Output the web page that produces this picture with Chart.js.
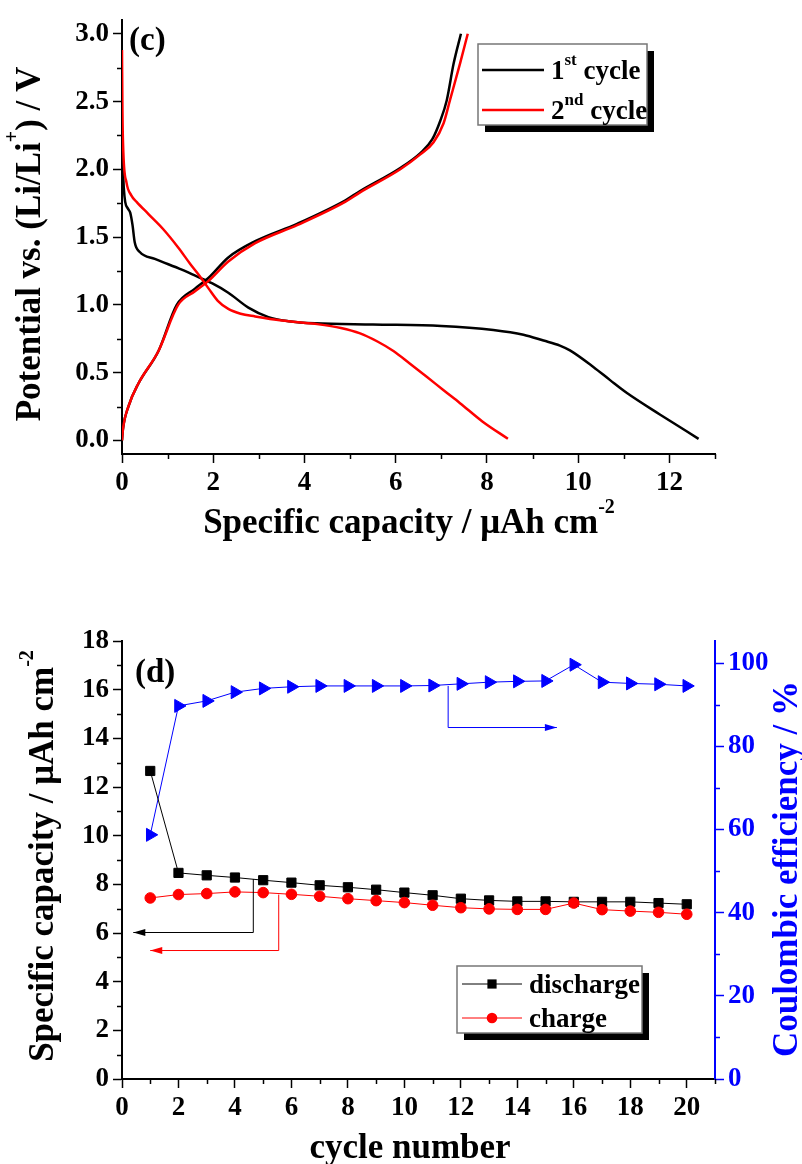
<!DOCTYPE html>
<html>
<head>
<meta charset="utf-8">
<script src="https://cdn.jsdelivr.net/npm/chart.js@4.4.0/dist/chart.umd.min.js"></script>
<style>
  html, body { margin: 0; padding: 0; background: #fff; }
  canvas { display: block; }
</style>
</head>
<body>
<canvas id="chartC" width="802" height="580"></canvas>
<canvas id="chartD" width="802" height="584"></canvas>
<script>
// (c) potential profiles, [capacity µAh cm-2, potential V]
const cycle1Discharge = [[0, 2.15], [0.02, 2.0], [0.04, 1.86], [0.07, 1.76], [0.13, 1.71], [0.18, 1.68],
  [0.23, 1.59], [0.28, 1.46], [0.39, 1.39], [0.72, 1.34], [1.31, 1.26], [1.64, 1.21], [1.97, 1.16],
  [2.33, 1.09], [2.77, 0.98], [3.21, 0.91], [3.65, 0.88], [4.23, 0.864], [5.5, 0.855], [7.0, 0.845],
  [8.14, 0.815], [8.8, 0.78], [9.24, 0.737], [9.6, 0.70], [9.82, 0.664], [10.34, 0.54], [10.7, 0.445],
  [11.07, 0.35], [11.8, 0.19], [12.64, 0.012]];
const cycle1Charge = [[0, 0.0], [0.02, 0.08], [0.14, 0.25], [0.36, 0.42], [0.8, 0.66], [1.2, 1.0],
  [1.6, 1.12], [1.9, 1.2], [2.33, 1.35], [2.92, 1.47], [3.85, 1.6], [4.89, 1.77], [5.22, 1.84],
  [6.1, 2.01], [6.54, 2.12], [6.8, 2.22], [6.98, 2.36], [7.12, 2.51], [7.27, 2.78], [7.43, 3.0]];
const cycle2Discharge = [[0, 2.88], [0.01, 2.42], [0.03, 2.12], [0.1, 1.9], [0.2, 1.81], [0.32, 1.76],
  [0.58, 1.67], [0.9, 1.56], [1.24, 1.42], [1.5, 1.3], [1.71, 1.21], [1.9, 1.12], [2.1, 1.03],
  [2.33, 0.97], [2.6, 0.935], [2.92, 0.915], [3.5, 0.885], [4.23, 0.86], [4.8, 0.83], [5.22, 0.79],
  [5.6, 0.73], [5.95, 0.66], [6.3, 0.57], [6.68, 0.47], [7.05, 0.37], [7.41, 0.275], [7.9, 0.14],
  [8.46, 0.012]];
const cycle2Charge = [[0, 0.0], [0.02, 0.08], [0.14, 0.25], [0.36, 0.42], [0.8, 0.66], [1.23, 1.0],
  [1.6, 1.1], [1.89, 1.175], [2.33, 1.32], [2.92, 1.455], [3.85, 1.59], [4.89, 1.76], [5.22, 1.83],
  [6.1, 2.0], [6.54, 2.11], [6.83, 2.2], [7.05, 2.34], [7.19, 2.51], [7.41, 2.78], [7.58, 3.0]];
const capacityTicksC = [0, 2, 4, 6, 8, 10, 12];
const potentialTicks = [0, 0.5, 1.0, 1.5, 2.0, 2.5, 3.0];

// (d) cycling
const cycles = [1, 2, 3, 4, 5, 6, 7, 8, 9, 10, 11, 12, 13, 14, 15, 16, 17, 18, 19, 20];
const dischargeCap = [12.66, 8.47, 8.37, 8.28, 8.17, 8.07, 7.96, 7.88, 7.78, 7.66,
  7.55, 7.41, 7.34, 7.30, 7.30, 7.28, 7.28, 7.28, 7.23, 7.18];
const chargeCap = [7.44, 7.58, 7.62, 7.69, 7.66, 7.59, 7.51, 7.41, 7.33, 7.25,
  7.14, 7.04, 6.99, 6.97, 6.97, 7.23, 6.96, 6.90, 6.85, 6.77];
const coulombicEff = [58.7, 89.7, 90.9, 93.0, 93.9, 94.3, 94.5, 94.5, 94.5, 94.5,
  94.6, 95.0, 95.4, 95.6, 95.7, 99.6, 95.4, 95.1, 94.9, 94.5];
const cycleTicks = [0, 2, 4, 6, 8, 10, 12, 14, 16, 18, 20];
const capacityTicksD = [0, 2, 4, 6, 8, 10, 12, 14, 16, 18];
const effTicks = [0, 20, 40, 60, 80, 100];

const FAMILY = '"Liberation Serif", "Times New Roman", serif';
const bold = size => `bold ${size}px ${FAMILY}`;
Chart.defaults.font.family = FAMILY;

function axis(color, tickValues, fitKey, fitSize) {
  return {
    type: 'linear',
    border: { display: true, color, width: 2 },
    grid: { drawOnChartArea: false, drawTicks: true, tickLength: 9, tickWidth: 1.5, tickColor: color, color },
    ticks: { color, font: { size: 27, weight: 'bold' }, padding: 4, autoSkip: false, maxRotation: 0 },
    afterBuildTicks: s => { s.ticks = tickValues.map(v => ({ value: v })); },
    afterFit: s => { s[fitKey] = fitSize; },
  };
}

// text with superscripts: parts = [[text, size, rise], ...]
function richText(ctx, parts, x, y, opt = {}) {
  ctx.save();
  ctx.translate(x, y);
  ctx.rotate(opt.angle || 0);
  ctx.fillStyle = opt.color || '#000';
  ctx.textBaseline = 'alphabetic';
  ctx.textAlign = 'left';
  let w = 0;
  parts.forEach(p => { ctx.font = bold(p[1]); w += ctx.measureText(p[0]).width; });
  let cx = opt.align === 'left' ? 0 : -w / 2;
  parts.forEach(p => {
    ctx.font = bold(p[1]);
    ctx.fillText(p[0], cx, -(p[2] || 0));
    cx += ctx.measureText(p[0]).width;
  });
  ctx.restore();
}

function legendBox(ctx, x, y, w, h) {
  ctx.save();
  ctx.fillStyle = '#000';
  ctx.fillRect(x + 7, y + 7, w, h);
  ctx.fillStyle = '#fff';
  ctx.fillRect(x, y, w, h);
  ctx.strokeStyle = '#777';
  ctx.lineWidth = 1.5;
  ctx.strokeRect(x, y, w, h);
  ctx.restore();
}

const minorTicks = {
  id: 'minorTicks',
  afterDraw(chart, args, opts) {
    const ctx = chart.ctx;
    Object.keys(opts.steps || {}).forEach(id => {
      const s = chart.scales[id];
      const step = opts.steps[id];
      const majors = s.ticks.map(t => t.value);
      ctx.save();
      ctx.strokeStyle = s.options.border.color;
      ctx.lineWidth = 1.5;
      for (let k = Math.ceil(s.min / step - 1e-9); k * step <= s.max + 1e-9; k++) {
        const v = k * step;
        if (majors.some(m => Math.abs(m - v) < 1e-6)) continue;
        const p = Math.round(s.getPixelForValue(v)) + 0.5;
        ctx.beginPath();
        if (s.isHorizontal()) { ctx.moveTo(p, s.top); ctx.lineTo(p, s.top + 5); }
        else if (s.position === 'left') { ctx.moveTo(s.right, p); ctx.lineTo(s.right - 5, p); }
        else { ctx.moveTo(s.left, p); ctx.lineTo(s.left + 5, p); }
        ctx.stroke();
      }
      ctx.restore();
    });
  }
};

const lineC = (pts, color) => ({
  data: pts.map(p => ({ x: p[0], y: p[1] })),
  borderColor: color, borderWidth: 2.5, pointRadius: 0, fill: false,
  cubicInterpolationMode: 'monotone',
});

new Chart(document.getElementById('chartC'), {
  type: 'line',
  data: {
    datasets: [
      lineC(cycle2Discharge, '#ff0000'),
      lineC(cycle2Charge, '#ff0000'),
      lineC(cycle1Discharge, '#000000'),
      lineC(cycle1Charge, '#000000'),
    ],
  },
  options: {
    responsive: false, animation: false, events: [],
    layout: { padding: { top: 16, right: 87, left: 0, bottom: 0 } },
    scales: {
      x: { ...axis('#000', capacityTicksC, 'height', 126), min: 0, max: 13 },
      y: { ...axis('#000', potentialTicks, 'width', 122), min: -0.1, max: 3.1,
        ticks: { ...axis('#000', []).ticks, callback: v => v.toFixed(1) } },
    },
    plugins: {
      legend: { display: false }, tooltip: { enabled: false },
      minorTicks: { steps: { x: 1, y: 0.25 } },
    },
  },
  plugins: [minorTicks, {
    id: 'decorC',
    afterDraw(chart) {
      const ctx = chart.ctx;
      richText(ctx, [['(c)', 33]], 129, 50, { align: 'left' });
      richText(ctx, [['Potential vs. (Li/Li', 35], ['+', 20, 22], [') / V', 35]], 40, 244, { angle: -Math.PI / 2 });
      richText(ctx, [['Specific capacity / \u03bcAh cm', 35], ['-2', 20, 20]], 409, 533);
      legendBox(ctx, 478, 44, 169, 81);
      ctx.save();
      ctx.lineWidth = 2.5;
      [['#000', 70], ['#ff0000', 110]].forEach(([c, y]) => {
        ctx.strokeStyle = c;
        ctx.beginPath(); ctx.moveTo(482, y); ctx.lineTo(544, y); ctx.stroke();
      });
      ctx.restore();
      richText(ctx, [['1', 27], ['st', 17, 14], [' cycle', 27]], 551, 79, { align: 'left' });
      richText(ctx, [['2', 27], ['nd', 17, 14], [' cycle', 27]], 551, 119, { align: 'left' });
    }
  }],
});

// arrows pointing each series to its axis, in data units
const arrowNotes = [
  { axis: 'y', color: '#000000', pts: [[4.65, 8.22], [4.65, 6.02], [0.4, 6.02]] },
  { axis: 'y', color: '#ff0000', pts: [[5.55, 7.58], [5.55, 5.28], [1.0, 5.28]] },
  { axis: 'y1', color: '#0000ff', pts: [[11.55, 94.5], [11.55, 84.5], [15.4, 84.5]] },
];

const lineD = (vals, color, style, radius, axisId) => ({
  data: cycles.map((c, i) => ({ x: c, y: vals[i] })),
  yAxisID: axisId,
  borderColor: color, backgroundColor: color, borderWidth: 1,
  pointStyle: style, pointRadius: radius, pointBorderWidth: 1,
  pointRotation: style === 'triangle' ? 90 : 0,
  tension: 0, fill: false,
});

new Chart(document.getElementById('chartD'), {
  type: 'line',
  data: {
    datasets: [
      lineD(chargeCap, '#ff0000', 'circle', 5.3, 'y'),
      lineD(dischargeCap, '#000000', 'rect', 6.5, 'y'),
      lineD(coulombicEff, '#0000ff', 'triangle', 7.5, 'y1'),
    ],
  },
  options: {
    responsive: false, animation: false, events: [],
    layout: { padding: { top: 61, right: 0, left: 0, bottom: 0 } },
    scales: {
      x: { ...axis('#000', cycleTicks, 'height', 85), min: 0, max: 21 },
      y: { ...axis('#000', capacityTicksD, 'width', 122), position: 'left', min: 0, max: 18 },
      y1: { ...axis('#0000ff', effTicks, 'width', 87), position: 'right', min: 0, max: 105.3 },
    },
    plugins: {
      legend: { display: false }, tooltip: { enabled: false },
      minorTicks: { steps: { x: 1, y: 1, y1: 10 } },
    },
  },
  plugins: [minorTicks, {
    id: 'decorD',
    afterDatasetsDraw(chart) {
      const ctx = chart.ctx;
      const xs = chart.scales.x;
      arrowNotes.forEach(a => {
        const ys = chart.scales[a.axis];
        const pts = a.pts.map(p => [xs.getPixelForValue(p[0]), ys.getPixelForValue(p[1])]);
        ctx.save();
        ctx.strokeStyle = a.color; ctx.fillStyle = a.color; ctx.lineWidth = 1;
        ctx.beginPath();
        pts.forEach((p, i) => i ? ctx.lineTo(p[0], p[1]) : ctx.moveTo(p[0], p[1]));
        ctx.stroke();
        const [ex, ey] = pts[pts.length - 1];
        const dir = Math.sign(ex - pts[pts.length - 2][0]);
        ctx.beginPath();
        ctx.moveTo(ex, ey);
        ctx.lineTo(ex - dir * 12, ey - 3.5);
        ctx.lineTo(ex - dir * 12, ey + 3.5);
        ctx.closePath();
        ctx.fill();
        ctx.restore();
      });
    },
    afterDraw(chart) {
      const ctx = chart.ctx;
      richText(ctx, [['(d)', 33]], 135, 102, { align: 'left' });
      richText(ctx, [['Specific capacity / \u03bcAh cm', 35], ['-2', 20, 20]], 53, 276, { angle: -Math.PI / 2 });
      richText(ctx, [['Coulombic efficiency / %', 35]], 797, 289, { angle: -Math.PI / 2, color: '#0000ff' });
      richText(ctx, [['cycle number', 35]], 410, 578);
      legendBox(ctx, 457, 386, 185, 67);
      ctx.save();
      ctx.lineWidth = 1;
      ctx.strokeStyle = '#000'; ctx.fillStyle = '#000';
      ctx.beginPath(); ctx.moveTo(462, 404); ctx.lineTo(522, 404); ctx.stroke();
      ctx.fillRect(492 - 4.6, 404 - 4.6, 9.2, 9.2);
      ctx.strokeStyle = '#ff0000'; ctx.fillStyle = '#ff0000';
      ctx.beginPath(); ctx.moveTo(462, 438); ctx.lineTo(522, 438); ctx.stroke();
      ctx.beginPath(); ctx.arc(492, 438, 5.3, 0, Math.PI * 2); ctx.fill();
      ctx.restore();
      richText(ctx, [['discharge', 27]], 529, 413, { align: 'left' });
      richText(ctx, [['charge', 27]], 529, 447, { align: 'left' });
    }
  }],
});
</script>
</body>
</html>
